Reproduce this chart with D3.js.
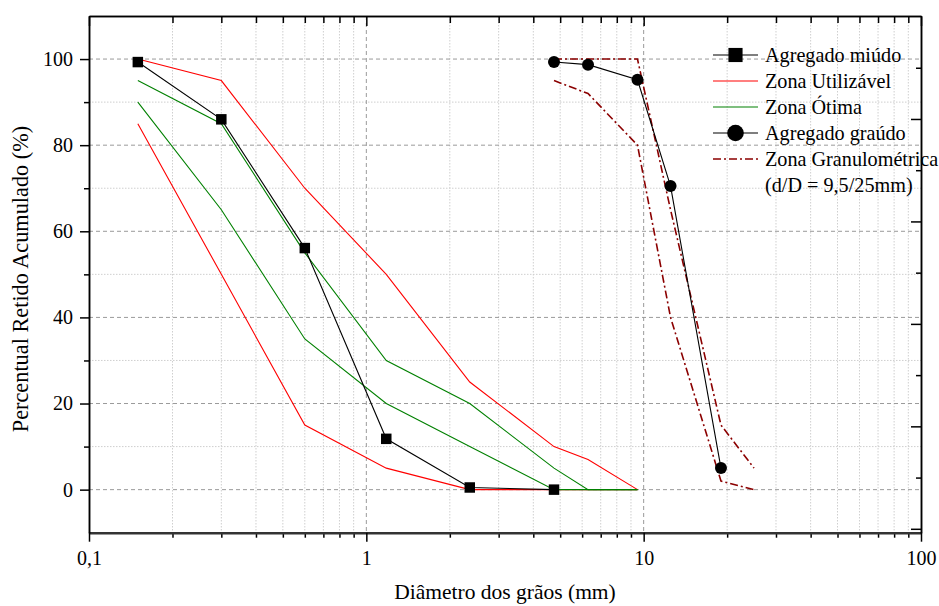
<!DOCTYPE html>
<meta charset="utf-8">
<style>
body { margin: 0; background: #fff; }
text { font-family: "Liberation Serif", "Times New Roman", serif; fill: #000; }
.grid-major line { stroke: #9a9a9a; stroke-width: 1; stroke-dasharray: 4,3; }
.grid-minor line { stroke: #cfcfcf; stroke-width: 1; stroke-dasharray: 1.5,1.5; }
.axis path, .axis line { stroke: #000; stroke-width: 1.5; }
.axis text { font-size: 20px; }
</style>
<svg width="939" height="606"></svg>
<script src="https://cdn.jsdelivr.net/npm/d3@7"></script>
<script>

// peneiras (mm)
var sieveFine = [0.15, 0.3, 0.6, 1.18, 2.36, 4.75];
var fineRetained = [99.3, 86, 56.1, 11.8, 0.5, 0];

var sieveZone = [0.15, 0.3, 0.6, 1.18, 2.36, 4.75, 6.3, 9.5];
var usableLower = [85, 50, 15, 5, 0, 0, 0, 0];
var usableUpper = [100, 95, 70, 50, 25, 10, 7, 0];
var optimalLower = [90, 65, 35, 20, 10, 0, 0, 0];
var optimalUpper = [95, 85, 55, 30, 20, 5, 0, 0];

var sieveCoarse = [4.75, 6.3, 9.5, 12.5, 19];
var coarseRetained = [99.3, 98.7, 95.2, 70.5, 5];

var sieveGran = [4.75, 6.3, 9.5, 12.5, 19, 25];
var granLower = [95, 92, 80, 40, 2, 0];
var granUpper = [100, 100, 100, 65, 15, 5];

var xMajor = [0.1, 1, 10, 100];
var yMajor = [0, 20, 40, 60, 80, 100];
var yMinor = [10, 30, 50, 70, 90];

var legendLabels = ["Agregado miúdo", "Zona Utilizável", "Zona Ótima", "Agregado graúdo", "Zona Granulométrica"];

var svg = d3.select("svg"),
    margin = {left: 89, top: 16, right: 18, bottom: 73.3},
    width = +svg.attr("width") - margin.left - margin.right,
    height = +svg.attr("height") - margin.top - margin.bottom;

var x = d3.scaleLog().domain([0.1, 100]).range([0, width]);
var y = d3.scaleLinear().domain([-10, 110]).range([height, 0]);
// eixo direito com divisões próprias
var yR = d3.scaleLinear().domain([-0.076, 10.01]).range([height, 0]);

var xMinor = x.ticks().filter(function(d) { return xMajor.indexOf(d) < 0; });

var g = svg.append("g").attr("transform", "translate(" + margin.left + "," + margin.top + ")");

// grades
g.append("g").attr("class", "grid-minor").selectAll("line").data(xMinor).enter().append("line")
    .attr("x1", x).attr("x2", x).attr("y1", 0).attr("y2", height);
g.append("g").attr("class", "grid-minor").selectAll("line").data(yMinor).enter().append("line")
    .attr("y1", y).attr("y2", y).attr("x1", 0).attr("x2", width);
g.append("g").attr("class", "grid-major").selectAll("line").data([1, 10]).enter().append("line")
    .attr("x1", x).attr("x2", x).attr("y1", 0).attr("y2", height);
g.append("g").attr("class", "grid-major").selectAll("line").data(yMajor).enter().append("line")
    .attr("y1", y).attr("y2", y).attr("x1", 0).attr("x2", width);

var comma = function(d) { return String(d).replace(".", ","); };

// eixos
g.append("g").attr("class", "axis").attr("transform", "translate(0," + height + ")")
    .call(d3.axisBottom(x).tickValues(xMinor).tickSize(5).tickSizeOuter(0).tickFormat(""));
var bottom = g.append("g").attr("class", "axis").attr("transform", "translate(0," + height + ")")
    .call(d3.axisBottom(x).tickValues(xMajor).tickSize(9).tickPadding(9).tickSizeOuter(0).tickFormat(comma));
bottom.select(".domain").style("stroke", "#333").style("stroke-width", 2.4);

g.append("g").attr("class", "axis")
    .call(d3.axisTop(x).tickValues(xMinor).tickSize(-7).tickSizeOuter(0).tickFormat(""));
g.append("g").attr("class", "axis")
    .call(d3.axisTop(x).tickValues(xMajor).tickSize(-10).tickSizeOuter(0).tickFormat(""));

g.append("g").attr("class", "axis")
    .call(d3.axisLeft(y).tickValues(yMinor).tickSize(5).tickSizeOuter(0).tickFormat(""));
g.append("g").attr("class", "axis")
    .call(d3.axisLeft(y).tickValues(yMajor).tickSize(9).tickPadding(7).tickSizeOuter(0));

g.append("g").attr("class", "axis").attr("transform", "translate(" + width + ",0)")
    .call(d3.axisRight(yR).tickValues([1, 3, 5, 7, 9]).tickSize(-5).tickSizeOuter(0).tickFormat(""));
g.append("g").attr("class", "axis").attr("transform", "translate(" + width + ",0)")
    .call(d3.axisRight(yR).tickValues([0, 2, 4, 6, 8]).tickSize(-10).tickSizeOuter(0).tickFormat(""));

// curvas
function curve(xs, ys) {
  return d3.line().x(function(d, i) { return x(xs[i]); }).y(function(d) { return y(d); })(ys);
}

function series(xs, ys, color, w, dash) {
  g.append("path").attr("d", curve(xs, ys)).attr("fill", "none")
      .attr("stroke", color).attr("stroke-width", w).attr("stroke-dasharray", dash || null);
}

series(sieveZone, usableLower, "#ff0000", 1.1);
series(sieveZone, usableUpper, "#ff0000", 1.1);
series(sieveZone, optimalLower, "#008000", 1.1);
series(sieveZone, optimalUpper, "#008000", 1.1);
series(sieveFine, fineRetained, "#000", 1.1);
series(sieveGran, granLower, "#8b0000", 1.6, "8,3,2,3");
series(sieveGran, granUpper, "#8b0000", 1.6, "8,3,2,3");
series(sieveCoarse, coarseRetained, "#000", 1.1);

g.selectAll(".sq").data(fineRetained).enter().append("path")
    .attr("transform", function(d, i) { return "translate(" + x(sieveFine[i]) + "," + y(d) + ")"; })
    .attr("d", d3.symbol(d3.symbolSquare, 110));
g.selectAll(".ci").data(coarseRetained).enter().append("circle")
    .attr("cx", function(d, i) { return x(sieveCoarse[i]); })
    .attr("cy", function(d) { return y(d); })
    .attr("r", 6);

// títulos
svg.append("text").attr("x", margin.left + width / 2).attr("y", 599)
    .attr("text-anchor", "middle").style("font-size", "21.5px").text("Diâmetro dos grãos (mm)");
svg.append("text").attr("transform", "translate(28,279) rotate(-90)")
    .attr("text-anchor", "middle").style("font-size", "22.3px").text("Percentual Retido Acumulado (%)");

// legenda
var legend = svg.append("g").attr("transform", "translate(713,0)");
var rowY = [55, 81, 107, 133, 159];
var sample = [
  {color: "#000", mark: "square"},
  {color: "#ff0000"},
  {color: "#008000"},
  {color: "#000", mark: "circle"},
  {color: "#8b0000", dash: "8,3,2,3", w: 1.6}
];
sample.forEach(function(s, i) {
  legend.append("line").attr("x1", 0).attr("x2", 45).attr("y1", rowY[i]).attr("y2", rowY[i])
      .attr("stroke", s.color).attr("stroke-width", s.w || 1.1).attr("stroke-dasharray", s.dash || null);
  if (s.mark === "square") {
    legend.append("path").attr("transform", "translate(22.5," + rowY[i] + ")")
        .attr("d", d3.symbol(d3.symbolSquare, 200));
  } else if (s.mark === "circle") {
    legend.append("circle").attr("cx", 22.5).attr("cy", rowY[i]).attr("r", 8.3);
  }
  legend.append("text").attr("x", 52).attr("y", rowY[i] + 7).style("font-size", "20.2px").text(legendLabels[i]);
});
legend.append("text").attr("x", 52).attr("y", 192).style("font-size", "20.2px").text("(d/D = 9,5/25mm)");

</script>
